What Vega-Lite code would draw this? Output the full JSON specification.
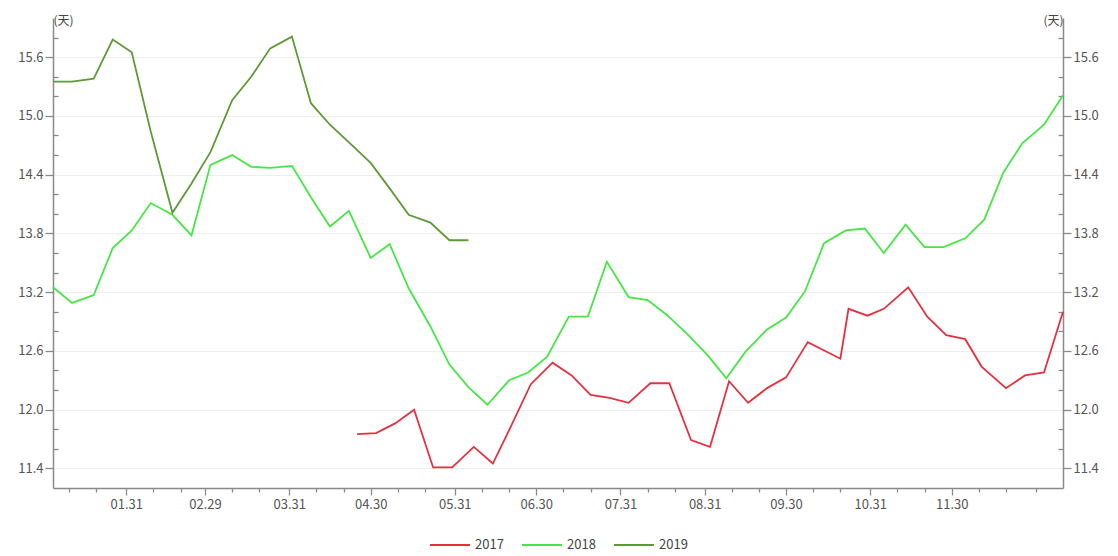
{
  "$schema": "https://vega.github.io/schema/vega-lite/v6.json",
  "width": 1010,
  "height": 470,
  "autosize": {"type": "none"},
  "padding": {"left": 53, "top": 18, "right": 55, "bottom": 68},
  "background": "white",
  "config": {
    "view": {"stroke": null},
    "font": "Noto Sans CJK SC",
    "axis": {
      "domainColor": "#8a8a8a",
      "domainWidth": 1.5,
      "tickColor": "#8a8a8a",
      "tickWidth": 1.3,
      "labelColor": "#555555",
      "labelFontSize": 13,
      "labelFont": "Noto Sans CJK SC",
      "titleFont": "Noto Sans CJK SC",
      "titleFontSize": 12,
      "titleFontWeight": "normal",
      "titleColor": "#444444"
    },
    "legend": {"layout": {"bottom": {"anchor": "middle"}}}
  },
  "data": {
    "format": {"parse": {"date": "date:'%Y-%m-%d'"}},
    "values": [
      {"year": "2018", "date": "2020-01-04", "value": 13.25},
      {"year": "2018", "date": "2020-01-11", "value": 13.09},
      {"year": "2018", "date": "2020-01-19", "value": 13.17},
      {"year": "2018", "date": "2020-01-26", "value": 13.65},
      {"year": "2018", "date": "2020-02-02", "value": 13.83},
      {"year": "2018", "date": "2020-02-09", "value": 14.11},
      {"year": "2018", "date": "2020-02-17", "value": 13.99},
      {"year": "2018", "date": "2020-02-24", "value": 13.78},
      {"year": "2018", "date": "2020-03-02", "value": 14.50},
      {"year": "2018", "date": "2020-03-10", "value": 14.60},
      {"year": "2018", "date": "2020-03-17", "value": 14.48},
      {"year": "2018", "date": "2020-03-24", "value": 14.47},
      {"year": "2018", "date": "2020-04-01", "value": 14.49},
      {"year": "2018", "date": "2020-04-08", "value": 14.17},
      {"year": "2018", "date": "2020-04-15", "value": 13.87},
      {"year": "2018", "date": "2020-04-22", "value": 14.03},
      {"year": "2018", "date": "2020-04-30", "value": 13.55},
      {"year": "2018", "date": "2020-05-07", "value": 13.69},
      {"year": "2018", "date": "2020-05-14", "value": 13.24},
      {"year": "2018", "date": "2020-05-22", "value": 12.85},
      {"year": "2018", "date": "2020-05-29", "value": 12.46},
      {"year": "2018", "date": "2020-06-05", "value": 12.23},
      {"year": "2018", "date": "2020-06-12", "value": 12.05},
      {"year": "2018", "date": "2020-06-20", "value": 12.30},
      {"year": "2018", "date": "2020-06-27", "value": 12.38},
      {"year": "2018", "date": "2020-07-04", "value": 12.54},
      {"year": "2018", "date": "2020-07-12", "value": 12.95},
      {"year": "2018", "date": "2020-07-19", "value": 12.95},
      {"year": "2018", "date": "2020-07-26", "value": 13.51},
      {"year": "2018", "date": "2020-08-03", "value": 13.15},
      {"year": "2018", "date": "2020-08-10", "value": 13.12},
      {"year": "2018", "date": "2020-08-17", "value": 12.97},
      {"year": "2018", "date": "2020-08-24", "value": 12.79},
      {"year": "2018", "date": "2020-09-01", "value": 12.56},
      {"year": "2018", "date": "2020-09-08", "value": 12.32},
      {"year": "2018", "date": "2020-09-15", "value": 12.59},
      {"year": "2018", "date": "2020-09-23", "value": 12.82},
      {"year": "2018", "date": "2020-09-30", "value": 12.94},
      {"year": "2018", "date": "2020-10-07", "value": 13.21},
      {"year": "2018", "date": "2020-10-14", "value": 13.70},
      {"year": "2018", "date": "2020-10-22", "value": 13.83},
      {"year": "2018", "date": "2020-10-29", "value": 13.85},
      {"year": "2018", "date": "2020-11-05", "value": 13.60},
      {"year": "2018", "date": "2020-11-13", "value": 13.89},
      {"year": "2018", "date": "2020-11-20", "value": 13.66},
      {"year": "2018", "date": "2020-11-27", "value": 13.66},
      {"year": "2018", "date": "2020-12-05", "value": 13.75},
      {"year": "2018", "date": "2020-12-12", "value": 13.94},
      {"year": "2018", "date": "2020-12-19", "value": 14.42},
      {"year": "2018", "date": "2020-12-26", "value": 14.72},
      {"year": "2018", "date": "2021-01-03", "value": 14.91},
      {"year": "2018", "date": "2021-01-10", "value": 15.21},
      {"year": "2019", "date": "2020-01-04", "value": 15.35},
      {"year": "2019", "date": "2020-01-11", "value": 15.35},
      {"year": "2019", "date": "2020-01-19", "value": 15.38},
      {"year": "2019", "date": "2020-01-26", "value": 15.78},
      {"year": "2019", "date": "2020-02-02", "value": 15.65},
      {"year": "2019", "date": "2020-02-09", "value": 14.84},
      {"year": "2019", "date": "2020-02-17", "value": 14.01},
      {"year": "2019", "date": "2020-02-24", "value": 14.31},
      {"year": "2019", "date": "2020-03-02", "value": 14.63},
      {"year": "2019", "date": "2020-03-10", "value": 15.16},
      {"year": "2019", "date": "2020-03-17", "value": 15.40},
      {"year": "2019", "date": "2020-03-24", "value": 15.69},
      {"year": "2019", "date": "2020-04-01", "value": 15.81},
      {"year": "2019", "date": "2020-04-08", "value": 15.13},
      {"year": "2019", "date": "2020-04-15", "value": 14.91},
      {"year": "2019", "date": "2020-04-22", "value": 14.73},
      {"year": "2019", "date": "2020-04-30", "value": 14.52},
      {"year": "2019", "date": "2020-05-07", "value": 14.26},
      {"year": "2019", "date": "2020-05-14", "value": 13.99},
      {"year": "2019", "date": "2020-05-22", "value": 13.91},
      {"year": "2019", "date": "2020-05-29", "value": 13.73},
      {"year": "2019", "date": "2020-06-05", "value": 13.73},
      {"year": "2017", "date": "2020-04-25", "value": 11.75},
      {"year": "2017", "date": "2020-05-02", "value": 11.76},
      {"year": "2017", "date": "2020-05-09", "value": 11.86},
      {"year": "2017", "date": "2020-05-16", "value": 12.00},
      {"year": "2017", "date": "2020-05-23", "value": 11.41},
      {"year": "2017", "date": "2020-05-30", "value": 11.41},
      {"year": "2017", "date": "2020-06-07", "value": 11.62},
      {"year": "2017", "date": "2020-06-14", "value": 11.45},
      {"year": "2017", "date": "2020-06-20", "value": 11.79},
      {"year": "2017", "date": "2020-06-28", "value": 12.26},
      {"year": "2017", "date": "2020-07-06", "value": 12.48},
      {"year": "2017", "date": "2020-07-13", "value": 12.35},
      {"year": "2017", "date": "2020-07-20", "value": 12.15},
      {"year": "2017", "date": "2020-07-27", "value": 12.12},
      {"year": "2017", "date": "2020-08-03", "value": 12.07},
      {"year": "2017", "date": "2020-08-11", "value": 12.27},
      {"year": "2017", "date": "2020-08-18", "value": 12.27},
      {"year": "2017", "date": "2020-08-26", "value": 11.69},
      {"year": "2017", "date": "2020-09-02", "value": 11.62},
      {"year": "2017", "date": "2020-09-09", "value": 12.29},
      {"year": "2017", "date": "2020-09-16", "value": 12.07},
      {"year": "2017", "date": "2020-09-23", "value": 12.22},
      {"year": "2017", "date": "2020-09-30", "value": 12.33},
      {"year": "2017", "date": "2020-10-08", "value": 12.69},
      {"year": "2017", "date": "2020-10-20", "value": 12.52},
      {"year": "2017", "date": "2020-10-23", "value": 13.03},
      {"year": "2017", "date": "2020-10-30", "value": 12.96},
      {"year": "2017", "date": "2020-11-05", "value": 13.03},
      {"year": "2017", "date": "2020-11-14", "value": 13.25},
      {"year": "2017", "date": "2020-11-21", "value": 12.95},
      {"year": "2017", "date": "2020-11-28", "value": 12.76},
      {"year": "2017", "date": "2020-12-05", "value": 12.72},
      {"year": "2017", "date": "2020-12-11", "value": 12.44},
      {"year": "2017", "date": "2020-12-20", "value": 12.22},
      {"year": "2017", "date": "2020-12-27", "value": 12.35},
      {"year": "2017", "date": "2021-01-03", "value": 12.38},
      {"year": "2017", "date": "2021-01-10", "value": 13.00}
    ]
  },
  "encoding": {
    "x": {
      "field": "date",
      "type": "temporal",
      "scale": {
        "domain": [{"year": 2020, "month": 1, "date": 4}, {"year": 2021, "month": 1, "date": 10}],
        "nice": false
      },
      "axis": {
        "title": null,
        "grid": false,
        "values": [
          {"year": 2020, "month": 1, "date": 10}, {"year": 2020, "month": 1, "date": 20}, {"year": 2020, "month": 1, "date": 31},
          {"year": 2020, "month": 2, "date": 10}, {"year": 2020, "month": 2, "date": 20}, {"year": 2020, "month": 2, "date": 29},
          {"year": 2020, "month": 3, "date": 10}, {"year": 2020, "month": 3, "date": 20}, {"year": 2020, "month": 3, "date": 31},
          {"year": 2020, "month": 4, "date": 10}, {"year": 2020, "month": 4, "date": 20}, {"year": 2020, "month": 4, "date": 30},
          {"year": 2020, "month": 5, "date": 10}, {"year": 2020, "month": 5, "date": 20}, {"year": 2020, "month": 5, "date": 31},
          {"year": 2020, "month": 6, "date": 10}, {"year": 2020, "month": 6, "date": 20}, {"year": 2020, "month": 6, "date": 30},
          {"year": 2020, "month": 7, "date": 10}, {"year": 2020, "month": 7, "date": 20}, {"year": 2020, "month": 7, "date": 31},
          {"year": 2020, "month": 8, "date": 10}, {"year": 2020, "month": 8, "date": 20}, {"year": 2020, "month": 8, "date": 31},
          {"year": 2020, "month": 9, "date": 10}, {"year": 2020, "month": 9, "date": 20}, {"year": 2020, "month": 9, "date": 30},
          {"year": 2020, "month": 10, "date": 10}, {"year": 2020, "month": 10, "date": 20}, {"year": 2020, "month": 10, "date": 31},
          {"year": 2020, "month": 11, "date": 10}, {"year": 2020, "month": 11, "date": 20}, {"year": 2020, "month": 11, "date": 30},
          {"year": 2020, "month": 12, "date": 10}, {"year": 2020, "month": 12, "date": 20}, {"year": 2020, "month": 12, "date": 31}
        ],
        "labelExpr": "date(datum.value) >= 28 && month(datum.value) < 11 ? timeFormat(datum.value, '%m.%d') : ''",
        "tickSize": {"condition": {"test": "date(datum.value) >= 28 && month(datum.value) < 11", "value": 7}, "value": 4},
        "labelPadding": 3,
        "labelFlush": false,
        "labelOverlap": false
      }
    },
    "color": {
      "field": "year",
      "type": "nominal",
      "scale": {"domain": ["2017", "2018", "2019"], "range": ["#e2323f", "#45e645", "#5e9a35"]},
      "legend": {
        "title": null,
        "orient": "bottom",
        "direction": "horizontal",
        "symbolType": "stroke",
        "symbolSize": 1600,
        "symbolStrokeWidth": 2,
        "labelFontSize": 13,
        "labelColor": "#444444",
        "columnPadding": 14,
        "offset": 13
      }
    }
  },
  "layer": [
    {
      "transform": [{"filter": "datum.year != '2019'"}],
      "mark": {"type": "line", "strokeWidth": 1.8},
      "encoding": {
        "y": {
          "field": "value",
          "type": "quantitative",
          "scale": {"domain": [11.2, 16.0], "nice": false, "zero": false},
          "axis": {
            "orient": "left",
            "title": "(天)",
            "titleAngle": 0,
            "titleX": 0,
            "titleY": 6,
            "titleAlign": "left",
            "titleBaseline": "alphabetic",
            "values": [11.4, 11.6, 11.8, 12.0, 12.2, 12.4, 12.6, 12.8, 13.0, 13.2, 13.4, 13.6, 13.8, 14.0, 14.2, 14.4, 14.6, 14.8, 15.0, 15.2, 15.4, 15.6, 15.8],
            "labelExpr": "abs((datum.value - 11.4) / 0.6 - round((datum.value - 11.4) / 0.6)) < 0.01 ? format(datum.value, '.1f') : ''",
            "tickSize": {"condition": {"test": "abs((datum.value - 11.4) / 0.6 - round((datum.value - 11.4) / 0.6)) < 0.01", "value": 8}, "value": -5},
            "grid": true,
            "gridColor": "#eeeeee",
            "gridOpacity": {"condition": {"test": "abs((datum.value - 11.4) / 0.6 - round((datum.value - 11.4) / 0.6)) < 0.01", "value": 1}, "value": 0},
            "labelPadding": 2
          }
        }
      }
    },
    {
      "transform": [{"filter": "datum.year == '2019'"}],
      "mark": {"type": "line", "strokeWidth": 1.8},
      "encoding": {
        "y": {
          "field": "value",
          "type": "quantitative",
          "scale": {"domain": [11.2, 16.0], "nice": false, "zero": false},
          "axis": {
            "orient": "right",
            "title": "(天)",
            "titleAngle": 0,
            "titleX": 0,
            "titleY": 6,
            "titleAlign": "right",
            "titleBaseline": "alphabetic",
            "values": [11.4, 11.6, 11.8, 12.0, 12.2, 12.4, 12.6, 12.8, 13.0, 13.2, 13.4, 13.6, 13.8, 14.0, 14.2, 14.4, 14.6, 14.8, 15.0, 15.2, 15.4, 15.6, 15.8],
            "labelExpr": "abs((datum.value - 11.4) / 0.6 - round((datum.value - 11.4) / 0.6)) < 0.01 ? format(datum.value, '.1f') : ''",
            "tickSize": {"condition": {"test": "abs((datum.value - 11.4) / 0.6 - round((datum.value - 11.4) / 0.6)) < 0.01", "value": 8}, "value": -5},
            "grid": false,
            "labelPadding": 2
          }
        }
      }
    }
  ],
  "resolve": {"scale": {"y": "independent"}, "axis": {"y": "independent"}}
}
